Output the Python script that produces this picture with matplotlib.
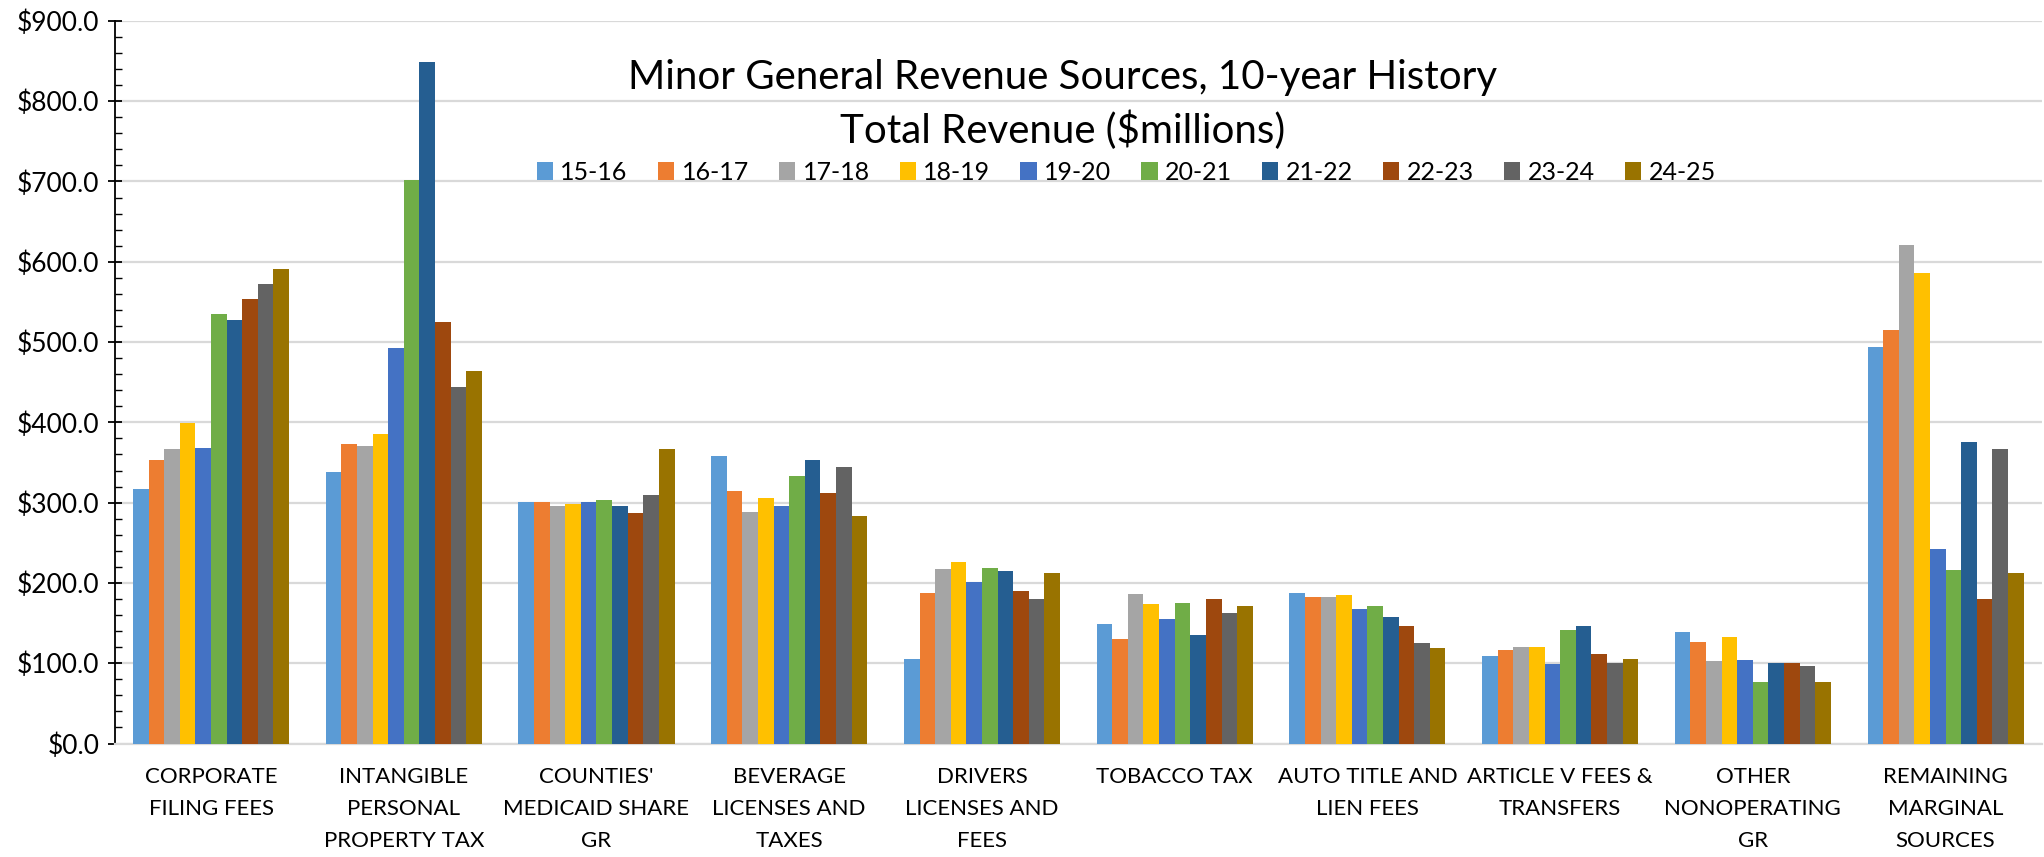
import numpy as np
import matplotlib.pyplot as plt
from matplotlib.ticker import MultipleLocator, FuncFormatter

categories = [
    "CORPORATE\nFILING FEES",
    "INTANGIBLE\nPERSONAL\nPROPERTY TAX",
    "COUNTIES'\nMEDICAID SHARE\nGR",
    "BEVERAGE\nLICENSES AND\nTAXES",
    "DRIVERS\nLICENSES AND\nFEES",
    "TOBACCO TAX",
    "AUTO TITLE AND\nLIEN FEES",
    "ARTICLE V FEES &\nTRANSFERS",
    "OTHER\nNONOPERATING\nGR",
    "REMAINING\nMARGINAL\nSOURCES",
]

years = ["15-16", "16-17", "17-18", "18-19", "19-20",
         "20-21", "21-22", "22-23", "23-24", "24-25"]

# values per category, one entry per fiscal year ($ millions)
corporate = [317.3, 353.0, 366.7, 398.7, 368.0, 535.4, 527.0, 553.8, 572.0, 590.4]
intangible = [338.5, 373.0, 371.0, 385.0, 492.5, 701.7, 849.0, 525.4, 443.8, 464.0]
counties = [301.0, 301.0, 295.3, 298.6, 301.0, 303.6, 295.3, 287.0, 310.0, 367.0]
beverage = [357.6, 314.4, 288.6, 305.2, 296.1, 333.5, 352.6, 311.5, 344.7, 283.2]
drivers = [105.9, 187.7, 217.2, 225.5, 201.4, 218.0, 214.3, 189.8, 180.6, 213.0]
tobacco = [148.3, 130.8, 186.0, 174.4, 154.5, 174.8, 134.6, 179.4, 162.0, 170.7]
auto_title = [187.3, 182.7, 182.3, 184.4, 167.4, 171.9, 157.0, 147.0, 125.8, 118.4]
article_v = [108.8, 115.9, 120.8, 120.8, 99.3, 140.8, 147.0, 111.7, 100.9, 105.1]
other_gr = [138.3, 126.2, 103.4, 133.3, 104.2, 76.8, 100.5, 100.1, 96.8, 76.8]
remaining = [494.0, 515.6, 621.4, 586.5, 241.7, 216.4, 375.0, 179.4, 366.3, 212.6]

colors = ["#5B9BD5", "#ED7D31", "#A5A5A5", "#FFC000", "#4472C4",
          "#70AD47", "#255E91", "#9E480E", "#636363", "#997300"]

plt.rcParams['font.family'] = ['Lato', 'DejaVu Sans']

data = np.array([corporate, intangible, counties, beverage, drivers,
                 tobacco, auto_title, article_v, other_gr, remaining])

fig = plt.figure(figsize=(20.44, 8.57), dpi=100)
ax = fig.add_axes([0.0561, 0.1324, 0.9429, 0.8432])

x = np.arange(len(categories))
bw = 0.081
for i, yr in enumerate(years):
    ax.bar(x + (i - 4.5) * bw, data[:, i], width=bw, color=colors[i],
           label=yr, zorder=3)

ax.set_xlim(-0.5, len(categories) - 0.5)
ax.set_ylim(0, 900)
ax.yaxis.set_major_locator(MultipleLocator(100))
ax.yaxis.set_minor_locator(MultipleLocator(20))
ax.yaxis.set_major_formatter(FuncFormatter(lambda v, p: f"${v:.1f}"))
ax.grid(axis='y', color='#d9d9d9', linewidth=1.6, zorder=0)

for s in ['top', 'right']:
    ax.spines[s].set_visible(False)
ax.spines['left'].set_color('black')
ax.spines['left'].set_linewidth(1.3)
ax.spines['bottom'].set_color('#d9d9d9')
ax.spines['bottom'].set_linewidth(1.6)

ax.tick_params(axis='y', which='major', direction='inout', length=10,
               width=1.3, labelsize=19, pad=6)
ax.tick_params(axis='y', which='minor', direction='in', length=5, width=1.0)
ax.set_xticks(x)
ax.set_xticklabels(categories, fontsize=16, linespacing=1.75)
ax.tick_params(axis='x', length=0, pad=17)

fig.text(0.52, 0.909, "Minor General Revenue Sources, 10-year History",
         ha='center', va='center', fontsize=29)
fig.text(0.52, 0.848, "Total Revenue ($millions)",
         ha='center', va='center', fontsize=29)

fig.legend(loc='center', bbox_to_anchor=(0.551, 0.799), ncol=10, frameon=False,
           fontsize=18, handlelength=0.65, handleheight=0.75, handletextpad=0.3,
           columnspacing=1.2)

fig.savefig("out.png", dpi=100)
